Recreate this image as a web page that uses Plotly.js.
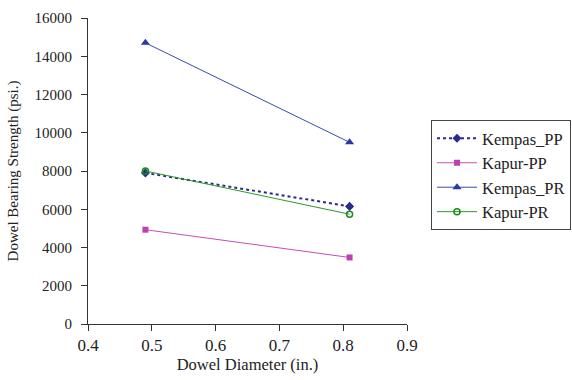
<!DOCTYPE html>
<html><head><meta charset="utf-8">
<script src="https://cdn.plot.ly/plotly-3.0.1.min.js"></script>
<style>html,body{margin:0;padding:0;background:#fff}#c{width:572px;height:380px}</style>
</head><body><div id="c"></div>
<script>
const diameters = [0.49, 0.81];
const kempasPP = [7900, 6150];
const kapurPP = [4930, 3480];
const kempasPR = [14700, 9500];
const kapurPR = [8000, 5740];
const seriesNames = ['Kempas_PP', 'Kapur-PP', 'Kempas_PR', 'Kapur-PR'];
const xTitle = 'Dowel Diameter (in.)';
const yTitle = 'Dowel Bearing Strength (psi.)';

const traces = [
  {x: diameters, y: kempasPP, name: seriesNames[0], mode: 'lines+markers',
   line: {color: '#2b2a8a', width: 2, dash: 'dot'}, marker: {symbol: 'diamond', size: 7, color: '#2b2a8a'}},
  {x: diameters, y: kapurPP, name: seriesNames[1], mode: 'lines+markers',
   line: {color: '#c84cb8', width: 1}, marker: {symbol: 'square', size: 6, color: '#c040b0'}},
  {x: diameters, y: kempasPR, name: seriesNames[2], mode: 'lines+markers',
   line: {color: '#3a4aae', width: 1}, marker: {symbol: 'triangle-up', size: 8, color: '#2a3a9e'}},
  {x: diameters, y: kapurPR, name: seriesNames[3], mode: 'lines+markers',
   line: {color: '#2a9a2a', width: 1}, marker: {symbol: 'circle-open', size: 6, color: '#1a8a1a', line: {width: 1.5}}}
];

const serif = 'Liberation Serif';
const layout = {
  width: 572, height: 380,
  margin: {l: 88, r: 165, t: 18, b: 56},
  paper_bgcolor: '#fff', plot_bgcolor: '#fff',
  font: {family: serif, size: 16, color: '#222'},
  showlegend: true,
  legend: {xref: 'container', yref: 'container', x: 0.7535, xanchor: 'left', y: 0.684, yanchor: 'top',
    bordercolor: '#444', borderwidth: 1, font: {family: serif, size: 16.5, color: '#222'},
    itemwidth: 40},
  xaxis: {range: [0.4, 0.9], dtick: 0.1, tick0: 0.4, showgrid: false, zeroline: false,
    showline: true, linecolor: '#333', linewidth: 1, ticks: 'outside', ticklen: 6, tickcolor: '#333',
    tickformat: '.1f', tickfont: {family: serif, size: 17},
    title: {text: xTitle, font: {family: serif, size: 16.5}, standoff: 2}},
  yaxis: {range: [0, 16000], dtick: 2000, showgrid: false, zeroline: false,
    showline: true, linecolor: '#333', linewidth: 1, ticks: 'outside', ticklen: 6, tickcolor: '#333',
    tickformat: 'd', tickfont: {family: serif, size: 15}, ticklabelstandoff: 6,
    title: {text: yTitle, font: {family: serif, size: 15}, standoff: 12}}
};
Plotly.newPlot('c', traces, layout, {displayModeBar: false, staticPlot: true});
</script></body></html>
